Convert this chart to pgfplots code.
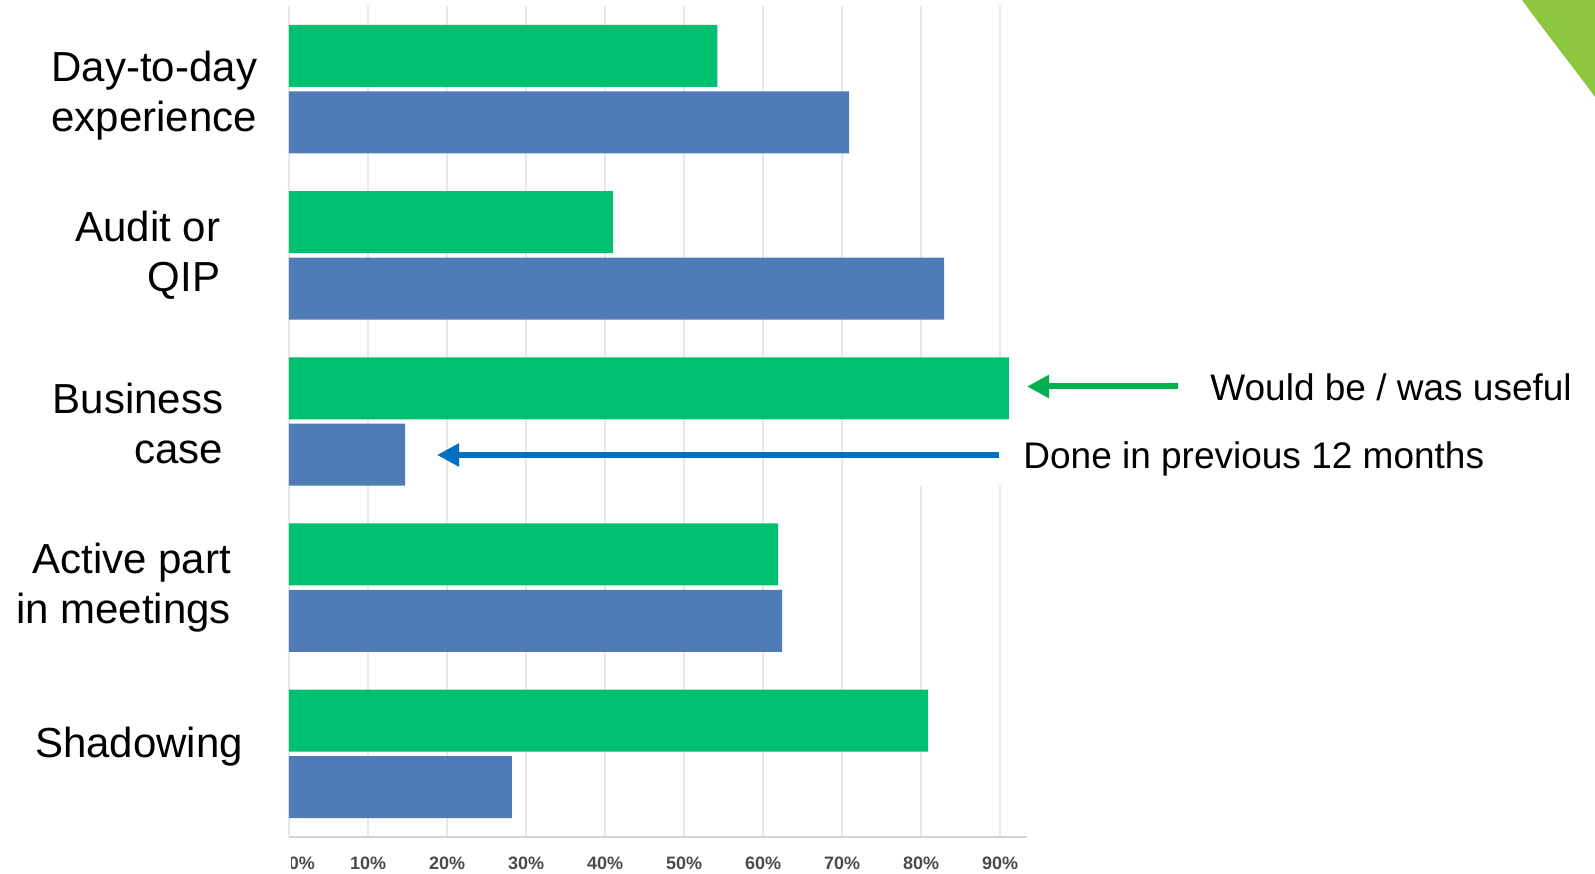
\documentclass[border=0pt]{standalone}
\usepackage{pgfplots}
\pgfplotsset{compat=1.18}
\usepackage{fontspec}
\setmainfont{Liberation Sans}
\usetikzlibrary{arrows.meta}
\definecolor{barg}{HTML}{00BF6F}
\definecolor{barb}{HTML}{4F7CB6}
\definecolor{arrg}{HTML}{00B050}
\definecolor{arrb}{HTML}{0070C0}
\definecolor{deco}{HTML}{8DC63F}
\definecolor{gridgray}{HTML}{E8E8E8}
\definecolor{axisgray}{HTML}{D4D4D4}
\definecolor{ticktext}{HTML}{4A4A4A}
\newcommand{\R}[1]{\hspace*{#1}}
\newcommand{\Sh}[2]{\raisebox{#1}[\height][\depth]{#2}}
\begin{document}
\begin{tikzpicture}
\useasboundingbox (-144.5pt,-18pt) rectangle (653pt,418.5pt);
\begin{axis}[
  scale only axis, width=369pt, height=415.5pt,
  xbar, bar width=0.373,
  xmin=0, xmax=93.4, ymin=-0.5, ymax=4.5,
  axis lines*=left,
  x axis line style={draw=axisgray, line width=1pt},
  y axis line style={draw=none},
  tick style={draw=none},
  xmajorgrids, grid style={draw=gridgray, line width=0.7pt},
  xtick={10,20,...,90},
  extra x ticks={0},
  extra x tick style={xticklabel style={xshift=6.5pt}},
  /pgf/number format/assume math mode=true,
  xticklabel={\pgfmathprintnumber{\tick}\%},
  xticklabel style={font=\fontsize{9}{10}\selectfont\bfseries, text=ticktext, anchor=center, yshift=-13pt},
  ytick={0,1,2,3,4},
  yticklabels={{\Sh{3.5pt}{Shadowing}\R{7pt}},{Active part\R{13pt}\\in meetings\R{13pt}},{\Sh{-1pt}{Business}\R{17pt}\\\Sh{-1pt}{case}\R{17pt}},{Audit or\R{18.5pt}\\QIP\R{18.5pt}},{\Sh{-3.5pt}{Day-to-day}\\\Sh{-3.5pt}{experience}}},
  yticklabel style={font=\fontsize{21}{25}\selectfont, align=right, inner sep=0pt, xshift=-11.5pt, anchor=east},
  clip=false,
]
\fill[white] (axis cs:75,1.61) rectangle (axis cs:93.4,2.39);
\addplot[fill=barg, draw=none, bar shift=0.2] coordinates {(80.9,0) (61.9,1) (91.1,2) (41.0,3) (54.2,4)};
\addplot[fill=barb, draw=none, bar shift=-0.2] coordinates {(28.2,0) (62.4,1) (14.7,2) (82.9,3) (70.9,4)};
\end{axis}
\fill[white] (-12pt,-18pt) rectangle (1pt,-4pt);
\draw[line width=3pt, arrg, -{Triangle[length=11pt,width=11pt]}] (444.5pt,225.25pt) -- (369pt,225.25pt);
\draw[line width=3pt, arrb, -{Triangle[length=11pt,width=11pt]}] (355pt,191pt) -- (74pt,191pt);
\node[anchor=base west, font=\fontsize{18.5}{22}\selectfont, inner sep=0pt] at (460.5pt,218pt) {Would be / was useful};
\node[anchor=base west, font=\fontsize{18.5}{22}\selectfont, inner sep=0pt] at (367pt,184pt) {Done in previous 12 months};
\fill[deco] (616.5pt,418.5pt) .. controls (630pt,400pt) and (642pt,385pt) .. (653pt,370pt) -- (653pt,418.5pt) -- cycle;
\end{tikzpicture}
\end{document}
